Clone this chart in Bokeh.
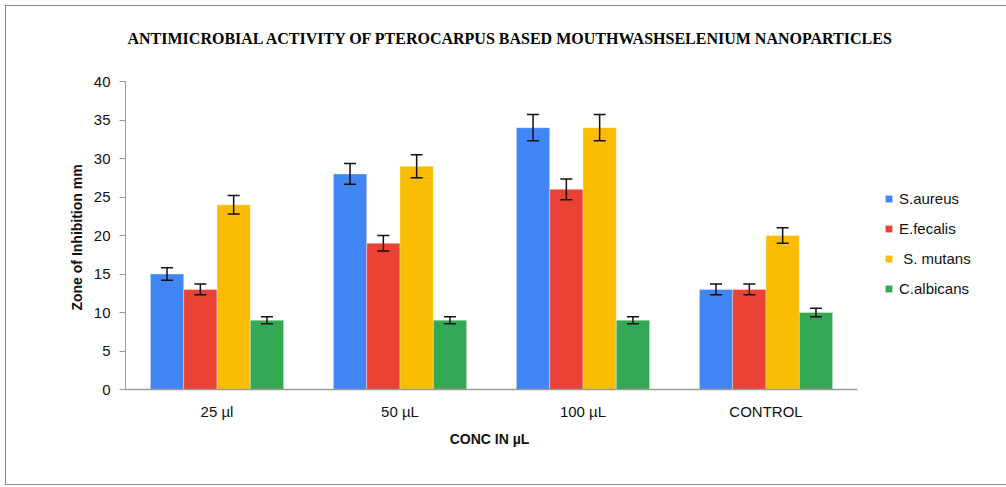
from bokeh.plotting import figure
from bokeh.models import FactorRange, Whisker, TeeHead, ColumnDataSource, Legend, LegendItem, Title
from bokeh.transform import dodge
from bokeh.embed import file_html
from bokeh.resources import INLINE

categories = ["25 µl", "50 µL", "100 µL", "CONTROL"]
series = ["S.aureus", "E.fecalis", " S. mutans", "C.albicans"]
colors = ["#4285F4", "#EA4335", "#FBBC04", "#34A853"]

s_aureus = [15, 28, 34, 13]
e_fecalis = [13, 19, 26, 13]
s_mutans = [24, 29, 34, 20]
c_albicans = [9, 9, 9, 10]

s_aureus_err = [0.8, 1.35, 1.7, 0.7]
e_fecalis_err = [0.7, 1.0, 1.35, 0.7]
s_mutans_err = [1.2, 1.5, 1.7, 1.0]
c_albicans_err = [0.45, 0.45, 0.45, 0.55]

values = [s_aureus, e_fecalis, s_mutans, c_albicans]
errors = [s_aureus_err, e_fecalis_err, s_mutans_err, c_albicans_err]

H = 478
TOP, FH, FW, LEFT = 75, 308, 732, 119
p = figure(x_range=FactorRange(*categories, range_padding=0), y_range=(0, 40),
           frame_width=FW, frame_height=FH, output_backend="svg", toolbar_location=None,
           min_border_left=LEFT, min_border_right=135, min_border_top=TOP,
           min_border_bottom=H - TOP - FH)
p.styles = {"border": "1px solid #8a8a8a", "margin-left": "5px", "margin-top": "5px"}
p.title = None

bw = 0.182
offsets = [-1.5 * bw, -0.5 * bw, 0.5 * bw, 1.5 * bw]
items = []
for name, col, vals, errs, off in zip(series, colors, values, errors, offsets):
    src = ColumnDataSource(dict(cat=categories, v=vals,
                                lo=[a - b for a, b in zip(vals, errs)],
                                hi=[a + b for a, b in zip(vals, errs)]))
    r = p.vbar(x=dodge("cat", off, range=p.x_range), top="v", width=bw, source=src,
               fill_color=col, line_color="white", line_alpha=0.35, line_width=1)
    w = Whisker(base=dodge("cat", off, range=p.x_range), lower="lo", upper="hi", source=src,
                level="overlay", line_color="#111111", line_width=1.5,
                upper_head=TeeHead(size=12, line_color="#111111", line_width=1.5),
                lower_head=TeeHead(size=12, line_color="#111111", line_width=1.5))
    p.add_layout(w)
    items.append(LegendItem(label=name, renderers=[r]))

legend = Legend(items=items, location=(27, 92), glyph_width=9, glyph_height=9,
                label_height=14, spacing=13, padding=5, label_standoff=6, margin=0,
                label_text_font="Liberation Sans", label_text_font_size="15px",
                label_text_color="#111111", border_line_color=None,
                background_fill_alpha=0)
p.add_layout(legend, "right")

p.xgrid.visible = False
p.ygrid.visible = False
p.outline_line_color = None

p.yaxis.ticker = [0, 5, 10, 15, 20, 25, 30, 35, 40]
p.yaxis.axis_line_color = "#9a9a9a"
p.yaxis.major_tick_line_color = "#9a9a9a"
p.yaxis.major_tick_out = 6
p.yaxis.major_tick_in = 0
p.yaxis.minor_tick_line_color = None
p.yaxis.major_label_text_font = "Liberation Sans"
p.yaxis.major_label_text_font_size = "15px"
p.yaxis.major_label_text_color = "#111111"
p.yaxis.major_label_standoff = 9
p.yaxis.axis_label = "Zone of Inhibition  mm"
p.yaxis.axis_label_text_font = "Liberation Sans"
p.yaxis.axis_label_text_font_style = "bold"
p.yaxis.axis_label_text_font_size = "14px"
p.yaxis.axis_label_text_color = "#111111"
p.yaxis.axis_label_standoff = 6

p.xaxis.axis_line_color = "#9a9a9a"
p.xaxis.axis_line_width = 1.5
p.xaxis.major_tick_line_color = None
p.xaxis.major_tick_out = 0
p.xaxis.minor_tick_line_color = None
p.xaxis.major_label_text_font = "Liberation Sans"
p.xaxis.major_label_text_font_size = "15px"
p.xaxis.major_label_text_color = "#111111"
p.xaxis.major_label_standoff = 13
p.xaxis.axis_label = "CONC  IN µL"
p.xaxis.axis_label_text_font = "Liberation Sans"
p.xaxis.axis_label_text_font_style = "bold"
p.xaxis.axis_label_text_font_size = "14px"
p.xaxis.axis_label_text_color = "#111111"
p.xaxis.axis_label_standoff = 8

# spacer panel nearest the frame, then the main title further out
p.add_layout(Title(text=" ", text_font_size="2px", standoff=31), "above")
p.add_layout(Title(text="ANTIMICROBIAL ACTIVITY OF  PTEROCARPUS BASED MOUTHWASHSELENIUM NANOPARTICLES",
                   text_font="Liberation Serif", text_font_size="16px", text_font_style="bold",
                   align="left", offset=2, standoff=0, text_color="#000000"), "above")

open("out.html", "w").write(file_html(p, INLINE))
